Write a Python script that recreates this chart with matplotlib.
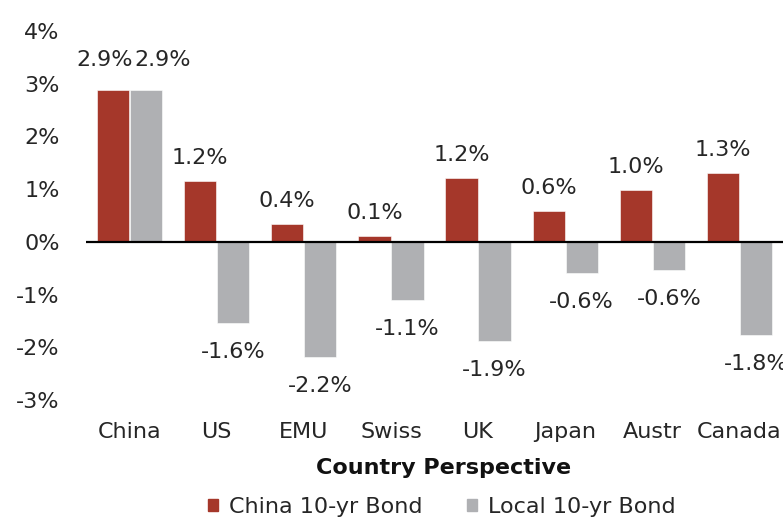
import matplotlib
matplotlib.use("Agg")
import matplotlib.pyplot as plt
import numpy as np
from matplotlib.patches import Patch

plt.rcParams["font.family"] = ["DejaVu Sans"]

countries = ["China", "US", "EMU", "Swiss", "UK", "Japan", "Austr", "Canada"]
china_bond = [2.88, 1.16, 0.34, 0.11, 1.21, 0.59, 0.99, 1.31]
local_bond = [2.88, -1.54, -2.18, -1.10, -1.88, -0.59, -0.53, -1.76]
china_labels = ["2.9%", "1.2%", "0.4%", "0.1%", "1.2%", "0.6%", "1.0%", "1.3%"]
local_labels = ["2.9%", "-1.6%", "-2.2%", "-1.1%", "-1.9%", "-0.6%", "-0.6%", "-1.8%"]

red = "#A5372A"
grey = "#AFB0B3"
fs = 16
txt_col = "#262626"

fig = plt.figure(figsize=(7.83, 5.19), dpi=100)
ax = fig.add_axes([86 / 783, 1 - 400 / 519, 697 / 783, 369 / 519])

x = np.arange(len(countries))
w = 0.37
off = 0.19
ax.bar(x - off, china_bond, w, color=red, edgecolor="white", linewidth=0.4)
ax.bar(x + off, local_bond, w, color=grey, edgecolor="white", linewidth=0.4)

ax.axhline(0, color="black", lw=1.6, zorder=3)

ax.set_xlim(-0.5, 7.5)
ax.set_ylim(-3, 4)
ax.set_yticks(range(-3, 5))
ax.set_yticklabels([f"{v}%" for v in range(-3, 5)])
ax.set_xticks(x)
ax.set_xticklabels(countries)
ax.tick_params(axis="y", length=0, pad=19, labelsize=fs, colors=txt_col)
ax.tick_params(axis="x", length=0, pad=16, labelsize=fs, colors=txt_col)
for s in ax.spines.values():
    s.set_visible(False)


def put(xpos, val, txt, ha="center", up=12):
    if val >= 0:
        ax.annotate(txt, (xpos, val), xytext=(0, up), textcoords="offset points",
                    ha=ha, va="baseline", fontsize=fs, color=txt_col)
    else:
        ax.annotate(txt, (xpos, val), xytext=(0, -14), textcoords="offset points",
                    ha=ha, va="top", fontsize=fs, color=txt_col)


for i in range(len(countries)):
    if i == 0:
        # labels pushed apart so they do not overlap
        put(x[i] + 0.04, china_bond[i], china_labels[i], ha="right", up=17)
        put(x[i] + 0.06, local_bond[i], local_labels[i], ha="left", up=17)
    else:
        put(x[i] - off, china_bond[i], china_labels[i])
        put(x[i] + off, local_bond[i], local_labels[i])

fig.text(444 / 783, 1 - 468 / 519, "Country Perspective", ha="center", va="center",
         fontsize=fs, fontweight="bold", color="#111111")

handles = [Patch(color=red, label="China 10-yr Bond"),
           Patch(color=grey, label="Local 10-yr Bond")]
fig.legend(handles=handles, loc="center", bbox_to_anchor=(442 / 783, 1 - 507 / 519),
           ncol=2, frameon=False, fontsize=fs, handlelength=0.45, handleheight=0.45,
           handletextpad=0.5, columnspacing=2.0, labelcolor=txt_col)

fig.savefig("out.png", dpi=100)
